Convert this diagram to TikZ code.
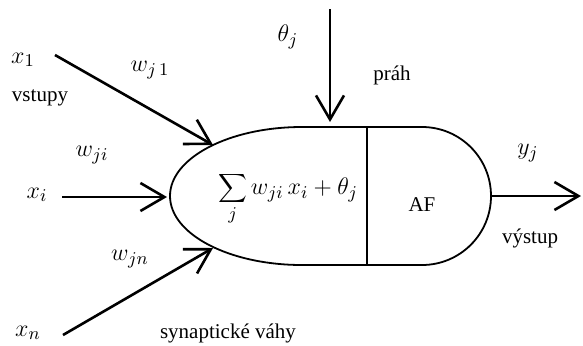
\documentclass[tikz,border=0pt]{standalone}
\usepackage{fontspec}
\setmainfont{Liberation Serif}
\usetikzlibrary{arrows.meta}
\begin{document}
\begin{tikzpicture}[x=0.5pt,y=0.5pt,
  every node/.style={font=\fontsize{10.5}{12}\selectfont, inner sep=0pt},
  mth/.style={font=\fontsize{12.5}{14}\selectfont},
  sig/.style={line width=1.3pt, -{Straight Barb[length=12pt,width=14pt,line width=1.3pt]}},
  body/.style={line width=0.9pt}]
\useasboundingbox (0,0) rectangle (583,345);
% neuron body
\draw[body] (302,218) -- (422,218) arc[start angle=90,end angle=-90,radius=34.5pt]
  -- (302,80) arc[start angle=-90,end angle=-270,x radius=66pt,y radius=34.5pt] -- cycle;
\coordinate (dtop) at (367,218);
\coordinate (dbot) at (367,80);
\draw[body] (dtop) -- (dbot);
% arrow end points
\coordinate (a1s) at (55,290);  \coordinate (a1e) at (213,200);
\coordinate (ais) at (62,148);  \coordinate (aie) at (167,148);
\coordinate (ans) at (63,10);   \coordinate (ane) at (213,97);
\coordinate (ats) at (330,336); \coordinate (ate) at (330,223);
\coordinate (aos) at (491,149); \coordinate (aoe) at (581,149);
\draw[sig] (a1s) -- (a1e);
\draw[sig] (ais) -- (aie);
\draw[sig] (ans) -- (ane);
\draw[sig] (ats) -- (ate);
\draw[sig] (aos) -- (aoe);
% labels
\node[mth] (x1) at (23,285) {$x_1$};
\node[mth] (wj1) at (150,275) {$w_{j\,1}$};
\node (vst) at (40,247) {vstupy};
\node[mth] (wji) at (92,190) {$w_{ji}$};
\node[mth] (xi) at (37,150) {$x_i$};
\node[mth] (wjn) at (130,86) {$w_{jn}$};
\node[mth] (xn) at (28,12) {$x_n$};
\node (syn) at (228,12) {synaptické váhy};
\node[mth] (th) at (288,308) {$\theta_j$};
\node (prah) at (392,270) {práh};
\node[mth] (sum) at (288,146) {$\displaystyle\sum_j w_{ji}\,x_i+\theta_j$};
\node (af) at (422,140) {AF};
\node[mth] (yj) at (528,192) {$y_j$};
\node (vys) at (530,107) {výstup};
\end{tikzpicture}
\end{document}
